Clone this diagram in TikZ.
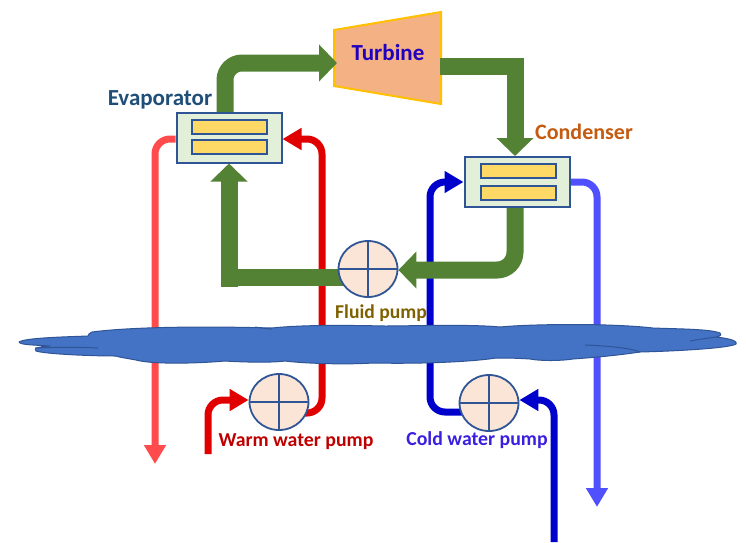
\documentclass[tikz,border=0pt]{standalone}
\usepackage{fontspec}
\setmainfont{Carlito}
\usetikzlibrary{arrows.meta,shapes.geometric,calc}
\pgfdeclarelayer{water}
\pgfdeclarelayer{fluid}
\pgfsetlayers{water,fluid,main}
\definecolor{pipegreen}{HTML}{548235}
\definecolor{hotred}{HTML}{E00000}
\definecolor{usedred}{HTML}{FF4B4B}
\definecolor{coldblue}{HTML}{0000CC}
\definecolor{usedblue}{HTML}{5050FF}
\definecolor{edgeblue}{HTML}{2F5597}
\definecolor{lakeblue}{HTML}{4472C4}
\definecolor{boxfill}{HTML}{E2F0D9}
\definecolor{barfill}{HTML}{FFD966}
\definecolor{pumpfill}{HTML}{FBE5D6}
\definecolor{turbfill}{HTML}{F4B183}
\definecolor{turbedge}{HTML}{FFC000}
\definecolor{turbtext}{HTML}{2000C0}
\definecolor{evaptext}{HTML}{1F4E79}
\definecolor{condtext}{HTML}{C55A11}
\definecolor{fluidtext}{HTML}{7F6000}
\definecolor{warmtext}{HTML}{C00000}
\definecolor{coldtext}{HTML}{3A1FE0}
\tikzset{
  exchanger/.style={draw=edgeblue,fill=boxfill,line width=2pt,rectangle,inner sep=0pt,minimum width=105pt,minimum height=50pt},
  hxbar/.style={draw=edgeblue,fill=barfill,line width=2pt,rectangle,inner sep=0pt,minimum width=75pt,minimum height=14pt},
  pump/.style={ellipse,draw=edgeblue,fill=pumpfill,line width=1.8pt,inner sep=0pt,minimum width=59pt,minimum height=56pt,
    path picture={\draw[edgeblue,line width=1.8pt]
      (path picture bounding box.north)--(path picture bounding box.south)
      (path picture bounding box.west)--(path picture bounding box.east);}},
  fluidpipe/.style={draw=pipegreen,line width=17pt,rounded corners=17pt,-{Triangle[length=18pt,width=36pt]}},
  waterpipe/.style={line width=7pt,rounded corners=15pt,-{Triangle[length=19pt,width=21pt]}},
  lbl/.style={font=\bfseries\fontsize{#1}{#1}\selectfont,inner sep=0pt},
  lake/.style={draw=edgeblue,fill=lakeblue,line width=1pt,line join=round}
}
\begin{document}
\begin{tikzpicture}[x=1pt,y=-1pt]
\useasboundingbox (0,0) rectangle (746,542);
% lake
\draw[lake] (19,342)
  .. controls (25,338) and (60,337) .. (88,336)
  .. controls (89,334) and (89,333) .. (92,332)
  .. controls (130,327) and (200,326) .. (272,328)
  .. controls (300,325) and (340,325) .. (385,326)
  .. controls (410,326) and (470,324) .. (500,327)
  .. controls (530,324) and (610,323) .. (653,328)
  .. controls (680,329) and (710,329) .. (720,333)
  .. controls (722,335) and (720,336) .. (716,337)
  .. controls (725,338) and (738,340) .. (736,344)
  .. controls (730,348) and (680,351) .. (640,352)
  .. controls (620,355) and (600,357) .. (573,359)
  .. controls (560,361) and (540,361) .. (530,359)
  .. controls (515,358) and (505,358) .. (496,358)
  .. controls (470,362) and (420,364) .. (373,363)
  .. controls (340,365) and (300,363) .. (285,361)
  .. controls (270,363) and (240,362) .. (225,361)
  .. controls (190,364) and (150,364) .. (136,360)
  .. controls (125,358) and (118,357) .. (116,356)
  .. controls (90,356) and (45,354) .. (36,351)
  .. controls (33,348) and (38,347) .. (50,346)
  .. controls (35,345) and (20,345) .. (19,342) -- cycle;
\draw[edgeblue,line width=1pt] (35,348) .. controls (60,347) and (80,347) .. (98,348)
  (255,327) .. controls (262,328) and (268,329) .. (272,329)
  (585,345) .. controls (610,346) and (630,348) .. (640,352)
  (690,341) .. controls (700,339) and (710,338) .. (716,337);
% turbine
\begin{pgfonlayer}{water}
\draw[turbedge,fill=turbfill,line width=2pt,line join=miter] (334,30)--(441,12)--(441,104)--(334,86)--cycle;
\end{pgfonlayer}
\node[lbl=23,text=turbtext] (turbine) at (388,53) {Turbine};
\coordinate (turbinIn) at (337,63);
\coordinate (turbinOut) at (440,66);
% exchangers
\node[exchanger] (evap) at (229,137.5) {};
\node[hxbar] (evapA) at (229,127) {};
\node[hxbar] (evapB) at (229,147) {};
\node[exchanger] (cond) at (517,182) {};
\node[hxbar] (condA) at (518,170.5) {};
\node[hxbar] (condB) at (518,193) {};
% pumps
\node[pump] (fluidpump) at (368,269) {};
\node[pump] (warmpump) at (279,402) {};
\node[pump] (coldpump) at (489,403) {};
% labels
\node[lbl=23,text=evaptext] (evapl) at (160,99.5) {Evaporator};
\node[lbl=22,text=condtext] (condl) at (584,132) {Condenser};
\node[lbl=19.6,text=fluidtext] (fluidl) at (381,313) {Fluid pump};
\node[lbl=19.8,text=warmtext] (warml) at (296,442) {Warm water pump};
\node[lbl=19.8,text=coldtext] (coldl) at (477,440) {Cold water pump};
% free ends
\coordinate (warmin) at (208,454);
\coordinate (warmdrop) at (155,464);
\coordinate (coldin) at (554,542);
\coordinate (colddrop) at (597,507);
% fluid circuit
\begin{pgfonlayer}{fluid}
\draw[fluidpipe] (225,112) -- (225,63) -- (turbinIn);
\draw[fluidpipe,rounded corners=0pt] (turbinOut) -- (515,66) -- (cond.north -| 515,0);
\draw[fluidpipe,rounded corners=18pt] (cond.south -| 515,0) -- (515,270) -- (fluidpump.east |- 0,270);
\draw[fluidpipe,rounded corners=0pt] (fluidpump.center |- 0,277) -- (229,277) -- (evap.south);
\fill[pipegreen] (220.5,277) rectangle (237.5,287);
\end{pgfonlayer}
% water circuits
\begin{pgfonlayer}{water}
\draw[waterpipe,draw=hotred] (warmpump |- 0,413) -- (322,413) -- (322,139) -- (evap.east |- 0,139);
\draw[waterpipe,draw=usedred] (evap.west |- 0,139) -- (155,139) -- (warmdrop);
\draw[waterpipe,draw=hotred] (warmin) -- (208,400) -- (warmpump.west |- 0,400);
\draw[waterpipe,draw=coldblue] (coldpump |- 0,412) -- (430,412) -- (430,182) -- (cond.west);
\draw[waterpipe,draw=usedblue] (cond.east) -- (597,182) -- (colddrop);
\draw[waterpipe,draw=coldblue] (coldin) -- (554,400) -- (coldpump.east |- 0,400);
\end{pgfonlayer}
\end{tikzpicture}
\end{document}
